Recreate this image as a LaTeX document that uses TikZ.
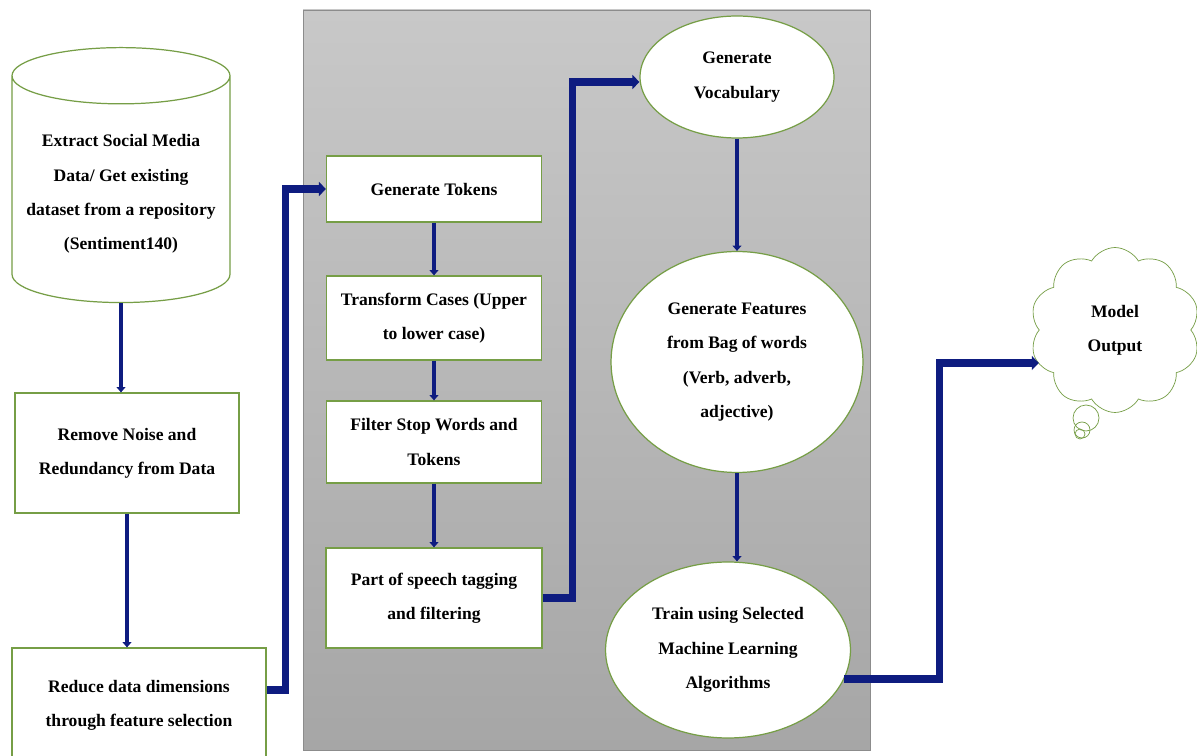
\documentclass[tikz,border=0pt]{standalone}
\usepackage{fontspec}
\setmainfont{Liberation Serif}
\usetikzlibrary{shapes.geometric,shapes.symbols,arrows.meta}
\definecolor{edgegreen}{RGB}{118,158,70}
\definecolor{flowblue}{RGB}{14,28,128}
\definecolor{paneltop}{RGB}{200,200,200}
\definecolor{panelbot}{RGB}{166,166,166}

\begin{document}
\begin{tikzpicture}[x=0.02cm,y=-0.02cm,
  font=\bfseries\fontsize{10}{19.5}\selectfont,
  box/.style={draw=edgegreen,fill=white,align=center,line width=0.7pt},
  oval/.style={ellipse,draw=edgegreen,fill=white,align=center,line width=0.7pt,inner sep=0pt},
  down/.style={draw=flowblue,line width=2.4pt,-{Triangle[length=3pt,width=5pt]}},
  link/.style={draw=flowblue,line width=4pt,-{Triangle[length=4pt,width=8pt]}}]
  \useasboundingbox (0,0) rectangle (1197,756);
  \fill[white] (0,0) rectangle (1197,756);
  % grey panel
  \shade[top color=paneltop,bottom color=panelbot,draw=gray!90] (303,10) rectangle (870,750);

  % left column
  \node[box,cylinder,shape border rotate=90,aspect=0.28,minimum width=4.36cm,minimum height=5.1cm] (src) at (121,194) {Extract Social Media\\Data/ Get existing\\dataset from a repository\\(Sentiment140)};
  \node[box,minimum width=4.48cm,minimum height=2.4cm] (noise) at (127,453) {Remove Noise and\\Redundancy from Data};
  \node[box,minimum width=5.08cm,minimum height=2.28cm] (reduce) at (139,705) {Reduce data dimensions\\through feature selection};

  % middle column
  \node[box,minimum width=4.3cm,minimum height=1.32cm] (tokens) at (434,189) {Generate Tokens};
  \node[box,minimum width=4.3cm,minimum height=1.68cm] (cases) at (434,318) {Transform Cases (Upper\\to lower case)};
  \node[box,minimum width=4.3cm,minimum height=1.64cm] (stopw) at (434,442) {Filter Stop Words and\\Tokens};
  \node[box,minimum width=4.32cm,minimum height=2cm] (pos) at (434,598) {Part of speech tagging\\and filtering};

  % ovals
  \node[oval,minimum width=3.88cm,minimum height=2.44cm] (vocab) at (737,77) {Generate\\Vocabulary};
  \node[oval,minimum width=5.04cm,minimum height=4.42cm] (feat) at (737,362) {Generate Features\\from Bag of words\\(Verb, adverb,\\adjective)};
  \node[oval,minimum width=4.9cm,minimum height=3.52cm] (train) at (728,650) {Train using Selected\\Machine Learning\\Algorithms};

  % output cloud
  \draw[edgegreen] (1086,418) circle[radius=0.26cm];
  \draw[edgegreen] (1082,430) circle[radius=0.16cm];
  \draw[edgegreen] (1080,434) circle[radius=0.1cm];
  \node[cloud,cloud puffs=10,cloud puff arc=120,draw=edgegreen,fill=white,align=center,minimum width=3.4cm,minimum height=3.3cm] (out) at (1115,330) {Model\\Output};

  % connectors
  \draw[down] (src.south) -- (src.south |- noise.north);
  \draw[down] (noise.south) -- (noise.south |- reduce.north);
  \draw[link] ([yshift=0.3cm]reduce.east) -- ++(19,0) |- (tokens.west);
  \draw[down] (tokens) -- (cases);
  \draw[down] (cases) -- (stopw);
  \draw[down] (stopw) -- (pos);
  \draw[link] (pos.east) -- ++(30,0) |- ([yshift=-0.1cm]vocab.west);
  \draw[down] (vocab) -- (feat);
  \draw[down] (feat.south) -- (feat.south |- train.north);
  \draw[link] (train.-14) -- ++(95,0) |- ([yshift=-0.66cm]out.west);
\end{tikzpicture}
\end{document}
